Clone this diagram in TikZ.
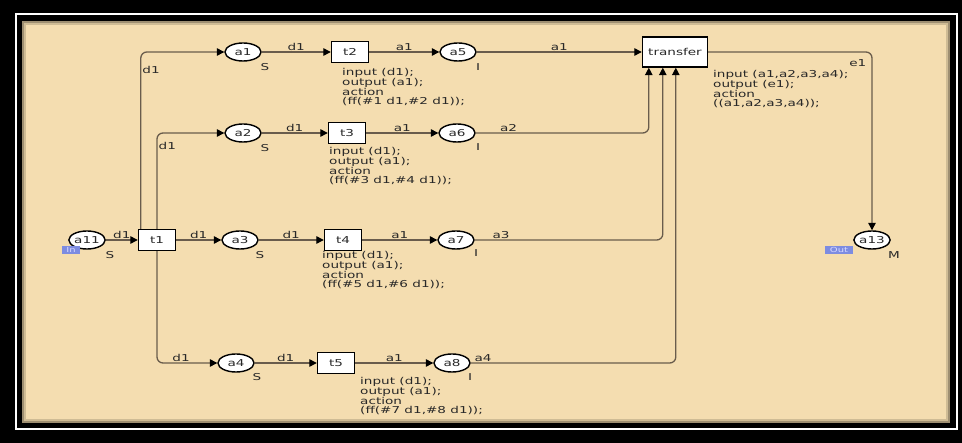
\documentclass[tikz,border=0pt]{standalone}
\usepackage{fontspec}
\setmainfont[FakeStretch=1.43]{DejaVu Sans}
\usepackage{xcolor}
\usetikzlibrary{arrows.meta,positioning,shapes.geometric}

\definecolor{paper}{RGB}{244,221,176}
\definecolor{arccol}{RGB}{105,92,76}
\definecolor{inkcol}{RGB}{40,40,40}
\definecolor{tagblue}{RGB}{125,140,225}

\begin{document}
\begin{tikzpicture}[
    x=1pt, y=-1pt,
    font=\fontsize{9.5}{9.8}\selectfont,
    place/.style={draw, ellipse, fill=white, line width=1.4pt, minimum width=36pt, minimum height=18pt, inner sep=0pt, text=inkcol},
    trans/.style={draw, rectangle, fill=white, line width=1.4pt, minimum width=37pt, minimum height=21pt, inner sep=1pt, text=inkcol},
    code/.style={anchor=north west, align=left, inner sep=0pt, text=inkcol},
    lbl/.style={inner sep=1pt, text=inkcol},
    tag/.style={fill=tagblue, text=white!85!blue, inner xsep=4.5pt, inner ysep=0pt, minimum height=8pt, font=\fontsize{7}{7}\selectfont},
    arr/.style={-{Triangle[length=7.5pt,width=7.5pt,color=black]}, draw=arccol, line width=1.3pt, rounded corners=6pt}
]
% frame
\fill[black] (0,0) rectangle (962,443);
\draw[white, line width=2pt] (16,14.5) rectangle (956.5,429.5);
\fill[paper] (18,16) rectangle (955,428);
\draw[black, line width=5pt] (19.5,18.5) rectangle (952.5,425.5);
\draw[black, opacity=0.35, line width=2pt] (23,22) rectangle (949,422);
\draw[black, opacity=0.15, line width=2pt] (25,24) rectangle (947,420);

% places and transitions
\node[place] (a11) at (87,240) {a11};
\node[tag] (a11tag) at (71,250) {In};
\node[lbl] (a11m) at (110,255) {S};
\node[trans] (t1) at (157,240) {t1};

\node[place] (a1) at (243,52) {a1};
\node[lbl] (a1m) at (265,67) {S};
\node[place] (a2) at (243,133) {a2};
\node[lbl] (a2m) at (265,148) {S};
\node[place] (a3) at (240,240) {a3};
\node[lbl] (a3m) at (260,255) {S};
\node[place] (a4) at (236,363) {a4};
\node[lbl] (a4m) at (257,377) {S};

\node[trans] (t2) at (350,52) {t2};
\node[trans] (t3) at (347,133) {t3};
\node[trans] (t4) at (343,240) {t4};
\node[trans] (t5) at (336,363) {t5};

\node[place] (a5) at (458,52) {a5};
\node[lbl] (a5m) at (478,67) {I};
\node[place] (a6) at (457,133) {a6};
\node[lbl] (a6m) at (478,147) {I};
\node[place] (a7) at (456,240) {a7};
\node[lbl] (a7m) at (476,253) {I};
\node[place] (a8) at (452,363) {a8};
\node[lbl] (a8m) at (470,377) {I};

\node[trans, minimum width=65pt, minimum height=30pt] (transfer) at (675,52) {transfer};
\node[place] (a13) at (872,240) {a13};
\node[tag] (a13tag) at (839,250) {Out};
\node[lbl] (a13m) at (894,255) {M};

% code segments
\node[code] (t2code) at (342,68) {input (d1);\\output (a1);\\action\\(ff(\#1 d1,\#2 d1));};
\node[code] (t3code) at (329,147) {input (d1);\\output (a1);\\action\\(ff(\#3 d1,\#4 d1));};
\node[code] (t4code) at (322,251) {input (d1);\\output (a1);\\action\\(ff(\#5 d1,\#6 d1));};
\node[code] (t5code) at (360,377) {input (d1);\\output (a1);\\action\\(ff(\#7 d1,\#8 d1));};
\node[code] (transfercode) at (713,70) {input (a1,a2,a3,a4);\\output (e1);\\action\\((a1,a2,a3,a4));};

% arcs
\draw[arr] (a11) -- node[above, lbl]{d1} (t1);
\draw[arr] ([xshift=3pt]t1.north west) |- node[pos=0.45, right, lbl]{d1} (a1);
\draw[arr] (t1.north) |- node[pos=0.43, right, lbl]{d1} (a2);
\draw[arr] (t1) -- node[above, lbl]{d1} (a3);
\draw[arr] (t1.south) |- node[pos=0.7, above, lbl]{d1} (a4);
\draw[arr] (a1) -- node[above, lbl]{d1} (t2);
\draw[arr] (a2) -- node[above, lbl]{d1} (t3);
\draw[arr] (a3) -- node[above, lbl]{d1} (t4);
\draw[arr] (a4) -- node[above, lbl]{d1} (t5);
\draw[arr] (t2) -- node[above, lbl]{a1} (a5);
\draw[arr] (t3) -- node[above, lbl]{a1} (a6);
\draw[arr] (t4) -- node[above, lbl]{a1} (a7);
\draw[arr] (t5) -- node[above, lbl]{a1} (a8);
\draw[arr] (a5) -- node[above, lbl]{a1} (transfer);
\draw[arr] (a6) -| node[pos=0.095, above, lbl]{a2} ([xshift=7pt]transfer.south west);
\draw[arr] (a7) -| node[pos=0.07, above, lbl]{a3} ([xshift=21pt]transfer.south west);
\draw[arr] (a8) -| node[pos=0.03, above, lbl]{a4} ([xshift=34pt]transfer.south west);
\draw[arr] (transfer) -| node[pos=0.53, left, lbl, xshift=-4pt]{e1} (a13);
\end{tikzpicture}
\end{document}
